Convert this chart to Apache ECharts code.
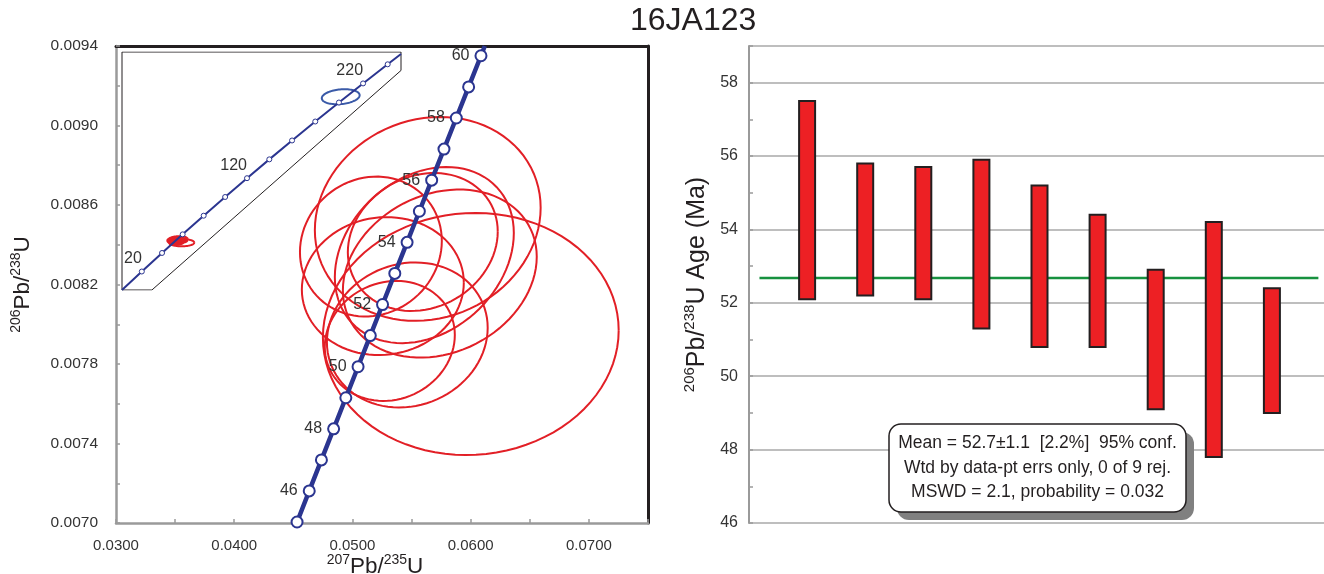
<!DOCTYPE html>
<html>
<head>
<meta charset="utf-8">
<script src="https://cdn.jsdelivr.net/npm/echarts@6/dist/echarts.min.js"></script>
<style>html,body{margin:0;padding:0;background:#fff}#c{width:1324px;height:574px}</style>
</head>
<body>
<div id="c"></div>
<script>
// ---------- Concordia (main panel): age markers in Ma and their ratios ----------
const concAges = [45,46,47,48,49,50,51,52,53,54,55,56,57,58,59,60];
const concR75  = [0.045315,0.046345,0.047376,0.048408,0.049441,0.050475,0.051510,0.052546,0.053583,0.054622,0.055661,0.056701,0.057742,0.058784,0.059828,0.060872];
const concR68  = [0.0070050,0.0071613,0.0073175,0.0074738,0.0076301,0.0077864,0.0079428,0.0080992,0.0082557,0.0084121,0.0085685,0.0087249,0.0088813,0.0090378,0.0091943,0.0093509];
const concEndR75 = [0.045285, 0.061196];
const concEndR68 = [0.0070, 0.0094];

// ---------- Error ellipses (9 analyses) ----------
const ellR75   = [0.05637,0.05595,0.05156,0.05608,0.05739,0.05257,0.05464,0.06001,0.05316];
const ellR68   = [0.008530,0.008414,0.008391,0.008348,0.008255,0.008192,0.007946,0.007951,0.007916];
const ellErr75 = [0.00955,0.00634,0.00600,0.00757,0.00820,0.00685,0.00680,0.01251,0.00550];
const ellErr68 = [0.000513,0.000347,0.000352,0.000443,0.000423,0.000347,0.000365,0.000609,0.000302];
const ellRho   = [0.11,0.15,0.08,0.25,0.20,0.05,0.10,0.03,0.10];

// ---------- Inset concordia ----------
const insetAges = [20,40,60,80,100,120,140,160,180,200,220,240];
const insetR75  = [0.019892,0.040180,0.060872,0.081975,0.103498,0.125449,0.147837,0.170670,0.193957,0.217708,0.241930,0.266635];
const insetR68  = [0.0031073,0.0062243,0.0093509,0.0124873,0.0156334,0.0187894,0.0219550,0.0251305,0.0283159,0.0315113,0.0347164,0.0379316];
const insetLineStart = [0, 0];
const insetLineEnd   = [0.28, 0.03966];
const insetLabelAges = [20, 120, 220];
const insetFrameX = [0, 0.28, 0.28, 0.03, 0, 0];
const insetFrameY = [0.04, 0.04, 0.0369, 0, 0, 0.04];
const insetOther = [0.2195, 0.03248, 0.019, 0.00126, 0.2]; // blue ellipse: x, y, errX, errY, rho

// ---------- Weighted mean panel ----------
const analyses = [1,2,3,4,5,6,7,8,9];
const ageLow   = [52.1,52.2,52.1,51.3,50.8,50.8,49.1,47.8,49.0];
const ageHigh  = [57.5,55.8,55.7,55.9,55.2,54.4,52.9,54.2,52.4];
const meanAge  = 52.68;
const meanSpan = [0.18, 9.8];
const statLines = [
  'Mean = 52.7\u00b11.1  [2.2%]  95% conf.',
  'Wtd by data-pt errs only, 0 of 9 rej.',
  'MSWD = 2.1, probability = 0.032'
];
const titleText = '16JA123';

// ---------- styles ----------
const F = '"Liberation Sans", Arial, sans-serif';
const INK = '#231f20';
const BLUE = '#2b3590';
const RED = '#e21f26';
const GRAY_AX = '#9a9a9a';

function richName(parts) {
  return parts.map(p => '{' + p[0] + '|' + p[1] + '}').join('');
}
function makeRich(main, sup) {
  return {
    sup:  { fontSize: sup, fontFamily: F, color: INK, verticalAlign: 'top', lineHeight: sup + 1 },
    main: { fontSize: main, fontFamily: F, color: INK, lineHeight: Math.round(main * 1.22) }
  };
}

function ellipseRenderer(color, width) {
  return function (params, api) {
    const cx = api.value(0), cy = api.value(1), sx = api.value(2), sy = api.value(3), r = api.value(4);
    const k = Math.sqrt(1 - r * r);
    const pts = [];
    for (let i = 0; i <= 90; i++) {
      const t = i / 90 * Math.PI * 2;
      pts.push(api.coord([cx + sx * Math.cos(t), cy + sy * (r * Math.cos(t) + k * Math.sin(t))]));
    }
    return { type: 'polyline', shape: { points: pts }, style: { stroke: color, fill: null, lineWidth: width }, silent: true };
  };
}

const ellData = ellR75.map((x, i) => [x, ellR68[i], ellErr75[i], ellErr68[i], ellRho[i]]);
const concLine = [[concEndR75[0], concEndR68[0]]]
  .concat(concR75.map((x, i) => [x, concR68[i]]))
  .concat([[concEndR75[1], concEndR68[1]]]);
const concPts = concR75.map((x, i) => ({ value: [x, concR68[i]], age: concAges[i] }));
const insetLine = [insetLineStart].concat(insetR75.map((x, i) => [x, insetR68[i]])).concat([insetLineEnd]);
const insetPts = insetR75.map((x, i) => ({ value: [x, insetR68[i]], age: insetAges[i] }));
const insetFrame = insetFrameX.map((x, i) => [x, insetFrameY[i]]);
const barData = analyses.map((a, i) => [a, ageLow[i], ageHigh[i]]);

const chart = echarts.init(document.getElementById('c'), null, { renderer: 'canvas' });

const option = {
  animation: false,
  backgroundColor: '#fff',
  textStyle: { fontFamily: F },
  title: {
    text: titleText, left: 630, top: 5, padding: 0,
    textStyle: { fontSize: 32, fontWeight: 'normal', color: INK, fontFamily: F }
  },
  grid: [
    { left: 116, top: 46, width: 532, height: 477, outerBoundsMode: 'none', containLabel: false },
    { left: 122, top: 52, width: 279, height: 238, outerBoundsMode: 'none', containLabel: false },
    { left: 749, top: 46, width: 581, height: 477, outerBoundsMode: 'none', containLabel: false }
  ],
  xAxis: [
    { gridIndex: 0, type: 'value', min: 0.03, max: 0.075, interval: 0.005, position: 'bottom',
      axisLine: { onZero: false, lineStyle: { color: GRAY_AX, width: 2.5 } },
      axisTick: { inside: true, length: 4, lineStyle: { color: GRAY_AX, width: 1.5 } },
      splitLine: { show: false },
      axisLabel: { color: '#333', fontSize: 15, fontFamily: F, margin: 15,
        formatter: v => (Math.round(v * 1000) % 10 === 0 && v < 0.0745) ? v.toFixed(4) : '' },
      name: richName([['sup','207'],['main','Pb/'],['sup','235'],['main','U']]),
      nameLocation: 'middle', nameGap: 30, nameMoveOverlap: false,
      nameTextStyle: { rich: makeRich(22.5, 14), padding: [0, 14, 0, 0] } },
    { gridIndex: 0, type: 'value', min: 0.03, max: 0.075, position: 'top',
      axisLine: { onZero: false, lineStyle: { color: INK, width: 3 } },
      axisTick: { show: false }, axisLabel: { show: false }, splitLine: { show: false } },
    { gridIndex: 1, type: 'value', min: 0, max: 0.28, show: false },
    { gridIndex: 2, type: 'value', min: 0, max: 10, show: false }
  ],
  yAxis: [
    { gridIndex: 0, type: 'value', min: 0.007, max: 0.0094, interval: 0.0002, position: 'left',
      axisLine: { onZero: false, lineStyle: { color: GRAY_AX, width: 2.5 } },
      axisTick: { inside: true, length: 4, lineStyle: { color: GRAY_AX, width: 1.5 } },
      splitLine: { show: false },
      axisLabel: { color: '#333', fontSize: 15.5, fontFamily: F, margin: 18,
        formatter: v => (Math.round(v * 10000) % 4 === 2) ? v.toFixed(4) : '' },
      name: richName([['sup','206'],['main','Pb/'],['sup','238'],['main','U']]),
      nameLocation: 'middle', nameGap: 80, nameRotate: 90, nameMoveOverlap: false,
      nameTextStyle: { rich: makeRich(22.5, 14) } },
    { gridIndex: 0, type: 'value', min: 0.007, max: 0.0094, position: 'right',
      axisLine: { onZero: false, lineStyle: { color: INK, width: 3 } },
      axisTick: { show: false }, axisLabel: { show: false }, splitLine: { show: false } },
    { gridIndex: 1, type: 'value', min: 0, max: 0.04, show: false },
    { gridIndex: 2, type: 'value', min: 46, max: 59, interval: 1, position: 'left',
      axisLine: { onZero: false, lineStyle: { color: GRAY_AX, width: 2 } },
      axisTick: { inside: true, length: 4, lineStyle: { color: GRAY_AX, width: 1.5 } },
      splitLine: { show: false },
      axisLabel: { color: '#333', fontSize: 16, fontFamily: F, margin: 11,
        formatter: v => (v % 2 === 0 && v < 59) ? String(v) : '' },
      name: richName([['sup','206'],['main','Pb/'],['sup','238'],['main','U Age (Ma)']]),
      nameLocation: 'middle', nameGap: 36, nameRotate: 90, nameMoveOverlap: false,
      nameTextStyle: { rich: makeRich(25, 15) } },
    { gridIndex: 2, type: 'value', min: 46, max: 59, interval: 2, position: 'left',
      axisLine: { show: false }, axisTick: { show: false }, axisLabel: { show: false },
      splitLine: { show: true, lineStyle: { color: '#a8a8a8', width: 1.5 } } }
  ],
  series: [
    { type: 'custom', xAxisIndex: 0, yAxisIndex: 0, data: ellData, z: 2,
      renderItem: ellipseRenderer(RED, 2), encode: { x: 0, y: 1 } },
    { type: 'line', xAxisIndex: 0, yAxisIndex: 0, data: concLine, symbol: 'none', z: 4,
      lineStyle: { color: BLUE, width: 4.5 }, silent: true, clip: true },
    { type: 'scatter', xAxisIndex: 0, yAxisIndex: 0, data: concPts, symbol: 'circle', symbolSize: 11, z: 5,
      itemStyle: { color: '#fff', borderColor: BLUE, borderWidth: 2, opacity: 1 },
      label: { show: true, position: 'left', distance: 5, color: '#333', fontSize: 16, fontFamily: F,
        formatter: p => (p.data.age % 2 === 0) ? String(p.data.age) : '' } },
    { type: 'line', xAxisIndex: 2, yAxisIndex: 2, data: insetFrame, symbol: 'none', z: 3,
      lineStyle: { color: INK, width: 1 }, silent: true },
    { type: 'custom', xAxisIndex: 2, yAxisIndex: 2, data: ellData, z: 3,
      renderItem: ellipseRenderer(RED, 2), encode: { x: 0, y: 1 } },
    { type: 'custom', xAxisIndex: 2, yAxisIndex: 2, data: [insetOther], z: 3,
      renderItem: ellipseRenderer('#3a5aa8', 2), encode: { x: 0, y: 1 } },
    { type: 'line', xAxisIndex: 2, yAxisIndex: 2, data: insetLine, symbol: 'none', z: 4,
      lineStyle: { color: BLUE, width: 2 }, silent: true },
    { type: 'scatter', xAxisIndex: 2, yAxisIndex: 2, data: insetPts, symbol: 'circle', symbolSize: 5, z: 5,
      itemStyle: { color: '#fff', borderColor: BLUE, borderWidth: 1, opacity: 1 },
      label: { show: true, position: 'top', align: 'right', distance: 2, color: '#333', fontSize: 16, fontFamily: F,
        formatter: p => insetLabelAges.indexOf(p.data.age) >= 0 ? String(p.data.age) : '' } },
    { type: 'line', xAxisIndex: 3, yAxisIndex: 3, data: [[meanSpan[0], meanAge], [meanSpan[1], meanAge]],
      symbol: 'none', z: 2, lineStyle: { color: '#17913f', width: 2.5 }, silent: true },
    { type: 'custom', xAxisIndex: 3, yAxisIndex: 3, data: barData, z: 3, encode: { x: 0, y: [1, 2] },
      renderItem: function (params, api) {
        const x = api.value(0), lo = api.value(1), hi = api.value(2);
        const pTop = api.coord([x, hi]), pBot = api.coord([x, lo]);
        const w = 16;
        return { type: 'rect', shape: { x: pTop[0] - w / 2, y: pTop[1], width: w, height: pBot[1] - pTop[1] },
          style: { fill: '#ed2024', stroke: INK, lineWidth: 2 } };
      } }
  ],
  graphic: [
    { type: 'rect', z: 100, shape: { x: 897, y: 432, width: 297, height: 88, r: 12 },
      style: { fill: '#808080', stroke: null } },
    { type: 'rect', z: 101, shape: { x: 889, y: 424, width: 297, height: 88, r: 12 },
      style: { fill: '#fff', stroke: INK, lineWidth: 1.5 } },
    { type: 'text', z: 102, x: 1037.5, y: 468,
      style: { text: statLines.join('\n'), align: 'center', verticalAlign: 'middle',
        font: '17.5px ' + F, lineHeight: 24.5, fill: INK } }
  ]
};
chart.setOption(option);
</script>
</body>
</html>
